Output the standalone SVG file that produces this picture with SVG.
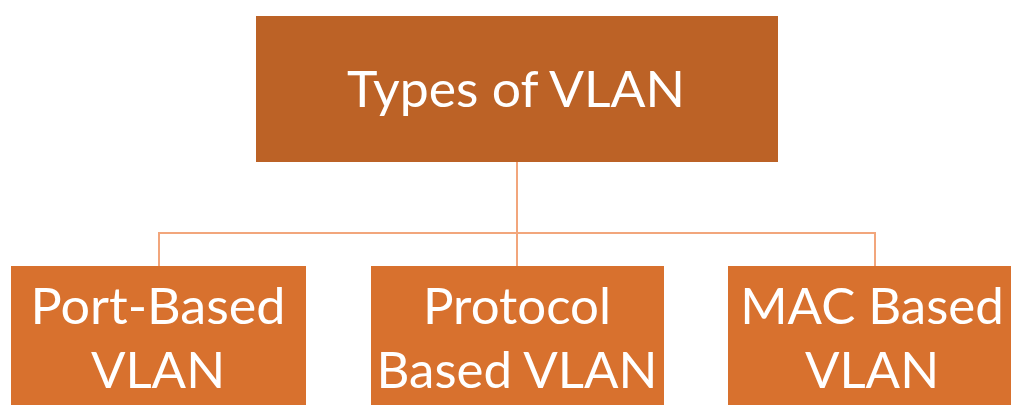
<svg xmlns="http://www.w3.org/2000/svg" width="1011" height="405" viewBox="0 0 1011 405">
<style>
.top{fill:#BC6226}
.leaf{fill:#D8712E}
.conn{stroke:#F2A67C;stroke-width:2;fill:none}
text{font-family:Lato,"Liberation Sans",sans-serif;fill:#FFFFFF;text-anchor:middle}
.t1{font-size:50px}
.t2{font-size:51px}
</style>
<rect width="1011" height="405" fill="#FFFFFF"/>
<g id="connectors">
<path class="conn" d="M517 162 V266 M159 266 V233 H875 V266"/>
</g>
<g id="root">
<rect class="top" x="256" y="16" width="522" height="146"/>
<text class="t1" x="516" y="107" textLength="338" lengthAdjust="spacingAndGlyphs">Types of VLAN</text>
</g>
<g id="port">
<rect class="leaf" x="11" y="266" width="295" height="150"/>
<text class="t2" x="158" y="324" textLength="255" lengthAdjust="spacingAndGlyphs">Port-Based</text>
<text class="t2" x="158" y="388">VLAN</text>
</g>
<g id="protocol">
<rect class="leaf" x="371" y="266" width="293" height="150"/>
<text class="t2" x="517" y="324">Protocol</text>
<text class="t2" x="517" y="388">Based VLAN</text>
</g>
<g id="mac">
<rect class="leaf" x="728" y="266" width="293" height="150"/>
<text class="t2" x="872" y="324">MAC Based</text>
<text class="t2" x="872" y="388">VLAN</text>
</g>
</svg>
